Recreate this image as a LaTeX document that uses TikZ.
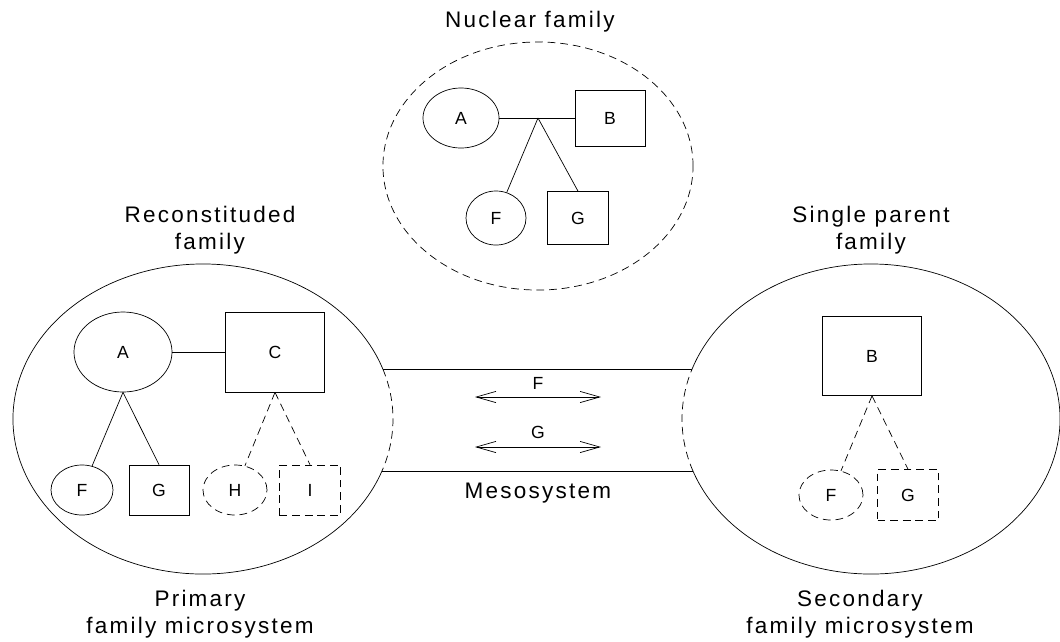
\documentclass[tikz,border=0pt]{standalone}
\usepackage{fontspec}
\setmainfont{Liberation Sans}
\newfontfamily\spaced[LetterSpace=10]{Liberation Sans}
\usetikzlibrary{shapes.geometric,arrows.meta}
\tikzset{
  fem/.style={ellipse,draw,inner sep=0pt},
  male/.style={rectangle,draw,inner sep=0pt},
  ghost/.style={dash pattern=on 5.5pt off 3.5pt},
  letter/.style={font=\fontsize{12.5}{14}\selectfont},
  caption/.style={font=\fontsize{16}{19}\selectfont\spaced,align=center,inner sep=0pt},
  meso/.style={{Straight Barb[length=14pt,width=8pt]}-{Straight Barb[length=14pt,width=8pt]}}
}
\begin{document}
\begin{tikzpicture}[x=0.025cm,y=-0.025cm,line width=0.5pt,every node/.append style={letter}]
  \useasboundingbox (0,0) rectangle (1060,641);

  % nuclear family
  \node[fem,ghost,minimum width=7.75cm,minimum height=6.2cm] (nuc) at (538,166) {};
  \node[fem,minimum width=1.9cm,minimum height=1.5cm] (nA) at (461,118) {A};
  \node[male,minimum width=1.75cm,minimum height=1.4cm] (nB) at (610,118) {B};
  \node[fem,minimum width=1.5cm,minimum height=1.35cm] (nF) at (496,218) {F};
  \node[male,minimum width=1.525cm,minimum height=1.325cm] (nG) at (578,218) {G};
  \coordinate (nJ) at (538,118);

  % primary family
  \coordinate (prim) at (203,419);
  \node[fem,minimum width=2.45cm,minimum height=2cm] (pA) at (123,352) {A};
  \node[male,minimum width=2.475cm,minimum height=2cm] (pC) at (275,352) {C};
  \node[fem,minimum width=1.55cm,minimum height=1.25cm] (pF) at (82,490) {F};
  \node[male,minimum width=1.5cm,minimum height=1.25cm] (pG) at (159,490) {G};
  \node[fem,ghost,minimum width=1.6cm,minimum height=1.25cm] (pH) at (235,490) {H};
  \node[male,ghost,minimum width=1.525cm,minimum height=1.25cm] (pI) at (310,490) {I};

  % secondary family
  \coordinate (sec) at (871,419);
  \node[male,minimum width=2.475cm,minimum height=1.975cm] (sB) at (872,356) {B};
  \node[fem,ghost,minimum width=1.6cm,minimum height=1.25cm] (sF) at (831,495) {F};
  \node[male,ghost,minimum width=1.525cm,minimum height=1.275cm] (sG) at (908,495) {G};

  % mesosystem
  \path (prim) ++(-18.8:190 and 155) coordinate (pT);
  \path (prim) ++(19.6:190 and 155) coordinate (pB);
  \path (sec) ++(198.8:189 and 155) coordinate (sT);
  \path (sec) ++(160.4:189 and 155) coordinate (sBot);
  \coordinate (fL) at (475,397);
  \coordinate (fR) at (601,397);
  \coordinate (gL) at (475,447);
  \coordinate (gR) at (601,447);

  % big circles
  \draw (pB) arc[start angle=19.6,end angle=341.2,x radius=190,y radius=155];
  \draw[ghost] (pT) arc[start angle=-18.8,end angle=19.6,x radius=190,y radius=155];
  \draw (sT) arc[start angle=198.8,end angle=520.4,x radius=189,y radius=155];
  \draw[ghost] (sBot) arc[start angle=160.4,end angle=198.8,x radius=189,y radius=155];
  \draw (pT) to (sT);
  \draw (pB) to (sBot);
  \draw[meso] (fL) to node[above=2pt] {F} (fR);
  \draw[meso] (gL) to node[above=2pt] {G} (gR);

  % links
  \draw (nA.east) to (nB.west);
  \draw (nJ) to (nF);
  \draw (nJ) to (nG.north);
  \draw (pA.east) to (pC.west);
  \draw (pA.south) to (pF);
  \draw (pA.south) to (pG.north);
  \draw[ghost] (pC.south) to (pH);
  \draw[ghost] (pC.south) to (pI.north);
  \draw[ghost] (sB.south) to (sF);
  \draw[ghost] (sB.south) to (sG.north);

  % captions
  \node[caption] (tNuc) at (530,22) {Nuclear family};
  \node[caption] (tRec) at (210,230) {Reconstituded\\family};
  \node[caption] (tSin) at (871,230) {Single parent\\family};
  \node[caption] (tMes) at (538,493) {Mesosystem};
  \node[caption] (tPri) at (200,614) {Primary\\family microsystem};
  \node[caption] (tSec) at (860,614) {Secondary\\family microsystem};
\end{tikzpicture}
\end{document}
